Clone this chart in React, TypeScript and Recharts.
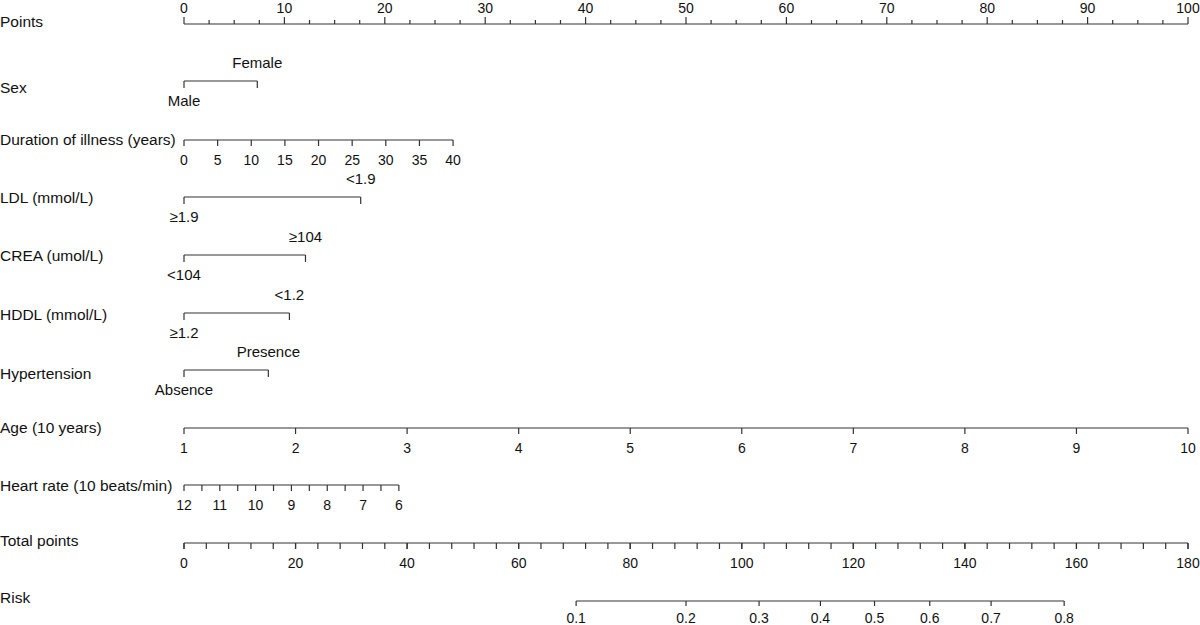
import { ComposedChart, Scatter, XAxis, YAxis } from 'recharts';

// points scale (top row)
const pointsLabels = [0, 10, 20, 30, 40, 50, 60, 70, 80, 90, 100];
const pointsMinor = [2.5, 5, 7.5, 12.5, 15, 17.5, 22.5, 25, 27.5, 32.5, 35, 37.5, 42.5, 45, 47.5, 52.5, 55, 57.5, 62.5, 65, 67.5, 72.5, 75, 77.5, 82.5, 85, 87.5, 92.5, 95, 97.5];

// categorical predictors: [reference level, other level] and their points
const sexLevels = ['Male', 'Female'];
const sexPoints = [0, 7.3];
const ldlLevels = ['≥1.9', '<1.9'];
const ldlPoints = [0, 17.6];
const creaLevels = ['<104', '≥104'];
const creaPoints = [0, 12.1];
const hddlLevels = ['≥1.2', '<1.2'];
const hddlPoints = [0, 10.5];
const hypertensionLevels = ['Absence', 'Presence'];
const hypertensionPoints = [0, 8.4];

// continuous predictors
const durationYears = [0, 5, 10, 15, 20, 25, 30, 35, 40];
const durationMaxPoints = 26.8;
const ageValues = [1, 2, 3, 4, 5, 6, 7, 8, 9, 10];
const ageMaxPoints = 100;
const heartRateTicks = [12, 11.5, 11, 10.5, 10, 9.5, 9, 8.5, 8, 7.5, 7, 6.5, 6];
const heartRateLabels = [12, 11, 10, 9, 8, 7, 6];
const heartRateMaxPoints = 21.4;

// total points and risk
const totalPointsLabels = [0, 20, 40, 60, 80, 100, 120, 140, 160, 180];
const totalPointsMax = 180;
const riskLabels = ['0.1', '0.2', '0.3', '0.4', '0.5', '0.6', '0.7', '0.8'];
const riskTotalPoints = [70.3, 90.0, 103.1, 114.1, 123.8, 133.7, 144.7, 157.8];

const FONT = '"Liberation Sans", Arial, Helvetica, sans-serif';
const INK = '#333';
const TEXT = '#111';

// row layout (pixel rows) and left label offsets
const rows = [
    { key: 'points', name: 'Points', y: 24, dy: 3 },
    { key: 'sex', name: 'Sex', y: 81, dy: 12 },
    { key: 'duration', name: 'Duration of illness (years)', y: 140, dy: 5 },
    { key: 'ldl', name: 'LDL (mmol/L)', y: 197, dy: 6 },
    { key: 'crea', name: 'CREA (umol/L)', y: 255, dy: 6 },
    { key: 'hddl', name: 'HDDL (mmol/L)', y: 313, dy: 7 },
    { key: 'htn', name: 'Hypertension', y: 370, dy: 9 },
    { key: 'age', name: 'Age (10 years)', y: 428, dy: 5 },
    { key: 'hr', name: 'Heart rate (10 beats/min)', y: 485, dy: 6 },
    { key: 'total', name: 'Total points', y: 543, dy: 3 },
    { key: 'risk', name: 'Risk', y: 601, dy: 2 },
];
const rowY = (key: string) => rows.find((r) => r.key === key)!.y;

type Mark = {
    x: number;
    y: number;
    label?: string;
    place: 'above' | 'below';
    len: number;
    up?: boolean;
    gap?: number;
    word?: boolean;
};

const pointsSeries: Mark[] = [
    ...pointsLabels.map((v) => ({ x: v, y: rowY('points'), label: String(v), place: 'above' as const, len: 7, up: true, gap: 11 })),
    ...pointsMinor.map((v) => ({ x: v, y: rowY('points'), place: 'above' as const, len: 4, up: true })),
].sort((a, b) => a.x - b.x);

const categorical = (key: string, levels: string[], pts: number[]): Mark[] => [
    { x: pts[0], y: rowY(key), label: levels[0], place: 'below', len: 7, word: true },
    { x: pts[1], y: rowY(key), label: levels[1], place: 'above', len: 7, word: true },
];

const linear = (v: number, vMin: number, vMax: number, pMax: number) => ((v - vMin) / (vMax - vMin)) * pMax;

const durationSeries: Mark[] = durationYears.map((v) => ({
    x: linear(v, 0, 40, durationMaxPoints),
    y: rowY('duration'),
    label: String(v),
    place: 'below',
    len: 6,
}));

const ageSeries: Mark[] = ageValues.map((v) => ({
    x: linear(v, 1, 10, ageMaxPoints),
    y: rowY('age'),
    label: String(v),
    place: 'below',
    len: 6,
}));

const heartRateSeries: Mark[] = heartRateTicks.map((v) => ({
    x: linear(v, 12, 6, heartRateMaxPoints),
    y: rowY('hr'),
    label: heartRateLabels.includes(v) ? String(v) : undefined,
    place: 'below',
    len: 6,
}));

const totalSeries: Mark[] = [];
for (let t = 0; t <= totalPointsMax; t += 4) {
    totalSeries.push({ x: linear(t, 0, totalPointsMax, 100), y: rowY('total'), place: 'below', len: 6 });
}
totalPointsLabels.forEach((t) => {
    totalSeries.push({ x: linear(t, 0, totalPointsMax, 100), y: rowY('total'), label: String(t), place: 'below', len: 6 });
});
totalSeries.sort((a, b) => a.x - b.x);

const riskSeries: Mark[] = riskLabels.map((l, i) => ({
    x: linear(riskTotalPoints[i], 0, totalPointsMax, 100),
    y: rowY('risk'),
    label: l,
    place: 'below',
    len: 5,
    gap: 22,
}));

const allSeries = [
    pointsSeries,
    categorical('sex', sexLevels, sexPoints),
    durationSeries,
    categorical('ldl', ldlLevels, ldlPoints),
    categorical('crea', creaLevels, creaPoints),
    categorical('hddl', hddlLevels, hddlPoints),
    categorical('htn', hypertensionLevels, hypertensionPoints),
    ageSeries,
    heartRateSeries,
    totalSeries,
    riskSeries,
];

const TickMark = (props: any) => {
    const { cx, cy, payload } = props;
    if (cx == null || cy == null) return <g />;
    const labelY = payload.place === 'above' ? cy - (payload.gap ?? 13) : cy + (payload.gap ?? 25);
    return (
        <g>
            <line x1={cx} y1={cy} x2={cx} y2={payload.up ? cy - payload.len : cy + payload.len} stroke={INK} strokeWidth={1.2} />
            {payload.label && (
                <text
                    x={cx}
                    y={labelY}
                    textAnchor="middle"
                    fontSize={payload.word ? 15 : 14}
                    fontFamily={FONT}
                    fill={TEXT}
                >
                    {payload.label}
                </text>
            )}
        </g>
    );
};

const RowLabel = (props: any) => {
    const { y, payload } = props;
    const row = rows.find((r) => r.y === payload.value);
    if (!row) return <g />;
    return (
        <text x={0} y={y + row.dy} textAnchor="start" fontSize={15.5} fontFamily={FONT} fill={TEXT}>
            {row.name}
        </text>
    );
};

export default function App() {
    return (
        <div style={{ position: 'absolute', left: 0, top: 0, width: 1200, height: 625, background: '#fff' }}>
            <ComposedChart width={1200} height={625} margin={{ top: 0, right: 12, bottom: 0, left: 0 }}>
                <XAxis type="number" dataKey="x" domain={[0, 100]} hide />
                <YAxis
                    type="number"
                    dataKey="y"
                    domain={[0, 625]}
                    reversed
                    width={184}
                    ticks={rows.map((r) => r.y)}
                    interval={0}
                    axisLine={false}
                    tickLine={false}
                    tick={<RowLabel />}
                />
                {allSeries.map((s, i) => (
                    <Scatter
                        key={i}
                        data={s}
                        line={{ stroke: INK, strokeWidth: 1.2 }}
                        shape={<TickMark />}
                        isAnimationActive={false}
                    />
                ))}
            </ComposedChart>
        </div>
    );
}
